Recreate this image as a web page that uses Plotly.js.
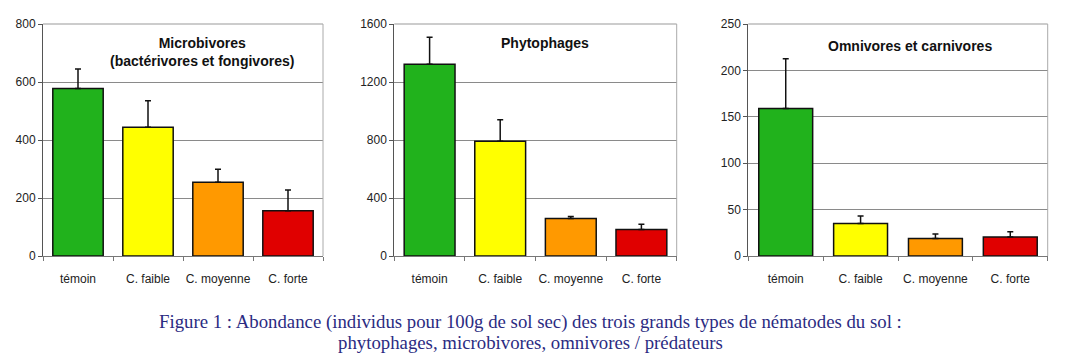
<!DOCTYPE html>
<html>
<head>
<meta charset="utf-8">
<script src="https://cdn.plot.ly/plotly-3.0.1.min.js"></script>
<style>html,body{margin:0;padding:0;background:#fff;}#chart{width:1077px;height:357px;}</style>
</head>
<body>
<div id="chart"></div>
<script>
const categories = ["témoin", "C. faible", "C. moyenne", "C. forte"];
const barColors = ["#21b21c", "#ffff00", "#ff9900", "#e00000"];

const microValues = [578, 444, 254, 156];
const microErr = [67, 91, 45, 72];
const phytoValues = [1322, 792, 258, 182];
const phytoErr = [186, 147, 14, 37];
const omniValues = [159, 35, 18.8, 20.5];
const omniErr = [53.5, 8, 5, 5.5];

const microTicks = [0, 200, 400, 600, 800];
const phytoTicks = [0, 400, 800, 1200, 1600];
const omniTicks = [0, 50, 100, 150, 200, 250];

const panelTitles = ["<b>Microbivores</b><br><b>(bactérivores et fongivores)</b>", "<b>Phytophages</b>", "<b>Omnivores et carnivores</b>"];
const captionLines = ["Figure 1 : Abondance (individus pour 100g de sol sec) des trois grands types de nématodes du sol :", "phytophages, microbivores, omnivores / prédateurs"];

function barTrace(vals, errs, ax) {
  return {
    type: "bar", x: categories, y: vals,
    xaxis: "x" + ax, yaxis: "y" + ax,
    marker: {color: barColors, line: {color: "#111", width: 1.5}},
    error_y: {type: "data", symmetric: false, array: errs, arrayminus: errs.map(() => 0),
              color: "#111", thickness: 1.5, width: 3},
    hoverinfo: "none", showlegend: false
  };
}

const data = [barTrace(microValues, microErr, ""), barTrace(phytoValues, phytoErr, "2"), barTrace(omniValues, omniErr, "3")];

const H = 357, W = 1077;
const yDom = [(H - 256) / H, (H - 24) / H];
const xDoms = [[43 / W, 323 / W], [394.3 / W, 676.7 / W], [748.3 / W, 1047.7 / W]];
const ranges = [[0, 800], [0, 1600], [0, 250]];
const ticks = [microTicks, phytoTicks, omniTicks];

const tickFont = {family: "Liberation Sans, Arial, sans-serif", size: 12, color: "#222"};
const layout = {
  width: W, height: H, margin: {l: 0, r: 0, t: 0, b: 0},
  paper_bgcolor: "#fff", plot_bgcolor: "#fff",
  bargap: 0.28, showlegend: false,
  shapes: [], annotations: []
};

const suffix = ["", "2", "3"];
for (let i = 0; i < 3; i++) {
  const s = suffix[i];
  layout["xaxis" + s] = {
    domain: xDoms[i], anchor: "y" + s, type: "category",
    showline: true, linecolor: "#777", linewidth: 1,
    ticks: "outside", tickson: "boundaries", ticklen: 4, tickcolor: "#777",
    tickangle: 0, ticklabelstandoff: 12,
    showgrid: false, tickfont: tickFont, fixedrange: true
  };
  layout["yaxis" + s] = {
    domain: yDom, anchor: "x" + s, range: ranges[i],
    tickvals: ticks[i], ticktext: ticks[i].map(String),
    showline: true, linecolor: "#555", linewidth: 1,
    ticks: "outside", ticklen: 4, tickcolor: "#555",
    showgrid: true, gridcolor: "#8a8a8a", gridwidth: 1,
    zeroline: false, tickfont: tickFont, fixedrange: true
  };
  const xr = "x" + s + " domain", yr = "y" + s + " domain";
  layout.shapes.push({type: "line", xref: xr, yref: yr, x0: 0, x1: 1, y0: 1, y1: 1, line: {color: "#999", width: 1}});
  layout.shapes.push({type: "line", xref: xr, yref: yr, x0: 1, x1: 1, y0: 0, y1: 1, line: {color: "#aaa", width: 1}});
}

const titlePos = [[201.7, 52], [545, 43], [910, 46.5]];
for (let i = 0; i < 3; i++) {
  layout.annotations.push({
    text: panelTitles[i], xref: "paper", yref: "paper",
    x: titlePos[i][0] / W, y: 1 - titlePos[i][1] / H,
    xanchor: "center", yanchor: "middle", showarrow: false, align: "center",
    font: {family: "Liberation Sans, Arial, sans-serif", size: 14, color: "#111"}
  });
}
const capY = [322, 342];
for (let i = 0; i < 2; i++) {
  layout.annotations.push({
    text: captionLines[i], xref: "paper", yref: "paper",
    x: 530 / W, y: 1 - capY[i] / H, xanchor: "center", yanchor: "middle", showarrow: false,
    font: {family: "Liberation Serif, Times New Roman, serif", size: 18.8, color: "#2b2b82"}
  });
}

Plotly.newPlot("chart", data, layout, {displayModeBar: false, staticPlot: true});
</script>
</body>
</html>
